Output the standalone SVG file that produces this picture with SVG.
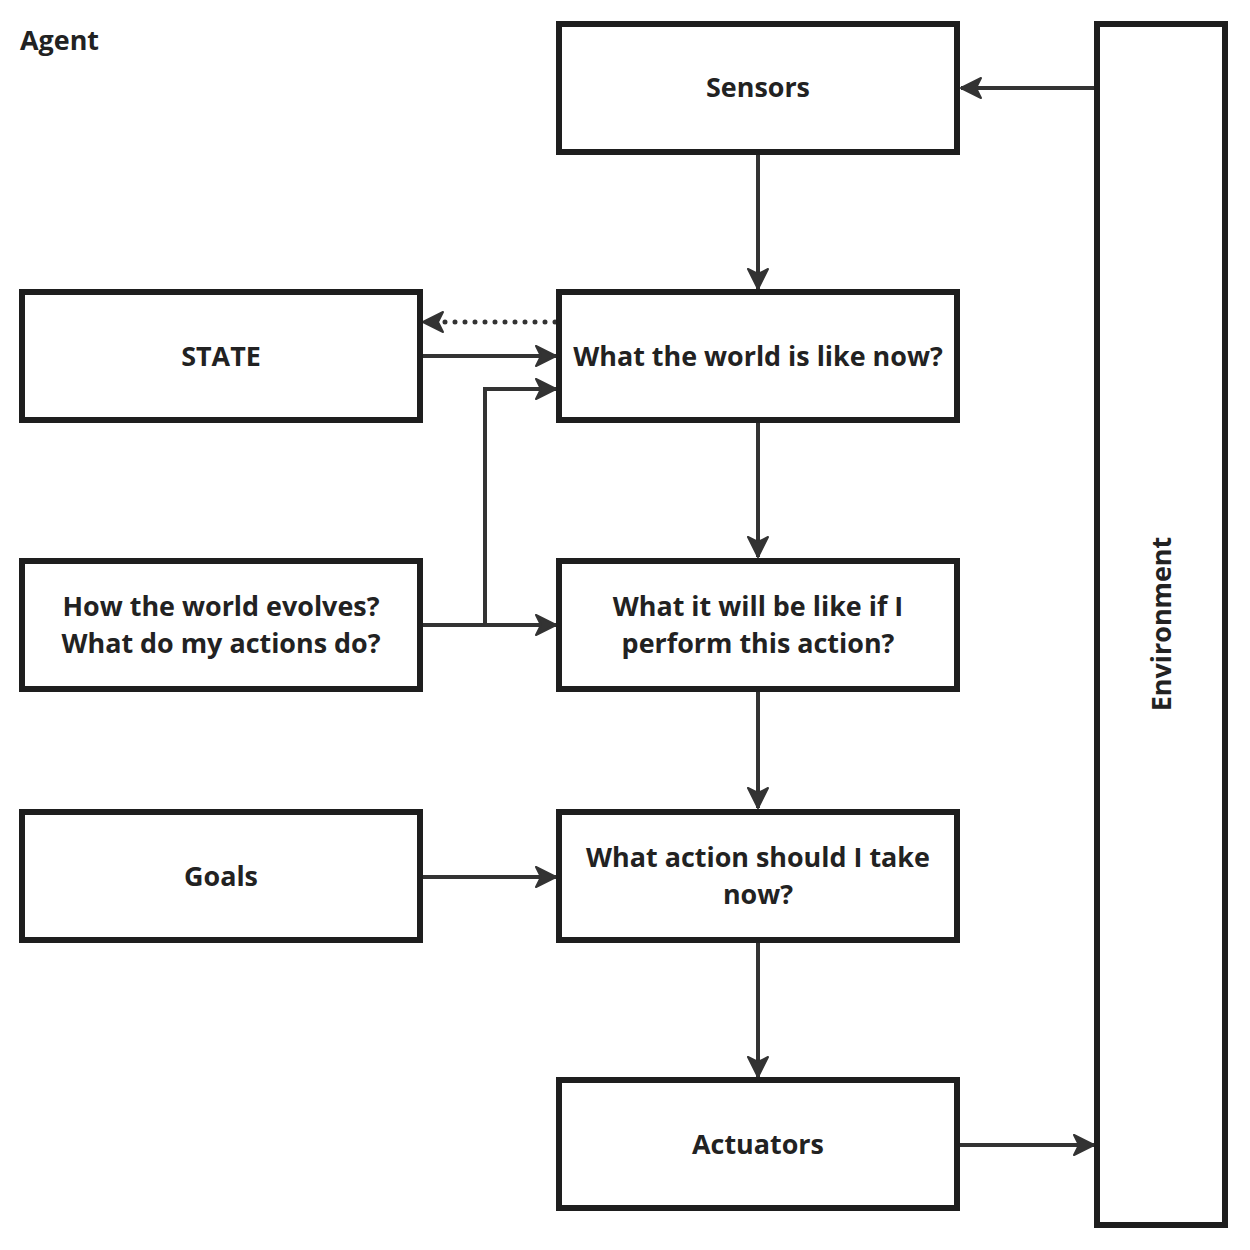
<svg xmlns="http://www.w3.org/2000/svg" width="1250" height="1250" viewBox="0 0 1250 1250">
<style>
.box{fill:#fff;stroke:#1e1e1e;stroke-width:6}
.t{font-family:"Open Sans","Noto Sans",sans-serif;font-weight:bold;font-size:26.9px;fill:#222;text-anchor:middle}
.c{fill:none;stroke:#333;stroke-width:4}
.d{fill:none;stroke:#333;stroke-width:5;stroke-dasharray:0 10;stroke-linecap:round}
</style>
<defs>
<marker id="ah" markerUnits="userSpaceOnUse" markerWidth="24" markerHeight="24" viewBox="0 0 24 24" refX="22" refY="12" orient="auto">
<path d="M2,2 L22,12 L2,22 L7,12 Z" fill="#333" stroke="#333" stroke-width="2" stroke-linejoin="round"/>
</marker>
</defs>
<rect width="1250" height="1250" fill="#fff"/>
<text x="20" y="50" class="t" style="text-anchor:start">Agent</text>
<g id="connectors">
<path class="c" d="M1095,88 H961" marker-end="url(#ah)"/>
<path class="c" d="M758,154 V289" marker-end="url(#ah)"/>
<path class="c" d="M758,423 V557" marker-end="url(#ah)"/>
<path class="c" d="M758,692 V808" marker-end="url(#ah)"/>
<path class="c" d="M758,943 V1077" marker-end="url(#ah)"/>
<path class="c" d="M423,356 H556" marker-end="url(#ah)"/>
<path class="d" d="M555,322 H440"/>
<path class="c" d="M440,322 H423" marker-end="url(#ah)" stroke-opacity="0"/>
<path class="c" d="M423,625 H556" marker-end="url(#ah)"/>
<path class="c" d="M485,625 V389 H556" marker-end="url(#ah)"/>
<path class="c" d="M423,877 H556" marker-end="url(#ah)"/>
<path class="c" d="M960,1145 H1094" marker-end="url(#ah)"/>
</g>
<g id="sensors"><rect class="box" x="559" y="24" width="398" height="128"/><text class="t" x="758" y="97">Sensors</text></g>
<g id="world-now"><rect class="box" x="559" y="292" width="398" height="128"/><text class="t" x="758" y="366">What the world is like now?</text></g>
<g id="predict"><rect class="box" x="559" y="561" width="398" height="128"/><text class="t" x="758" y="616">What it will be like if I</text><text class="t" x="758" y="653">perform this action?</text></g>
<g id="action"><rect class="box" x="559" y="812" width="398" height="128"/><text class="t" x="758" y="867">What action should I take</text><text class="t" x="758" y="904">now?</text></g>
<g id="actuators"><rect class="box" x="559" y="1080" width="398" height="128"/><text class="t" x="758" y="1154">Actuators</text></g>
<g id="state"><rect class="box" x="22" y="292" width="398" height="128"/><text class="t" x="221" y="366">STATE</text></g>
<g id="evolves"><rect class="box" x="22" y="561" width="398" height="128"/><text class="t" x="221" y="616">How the world evolves?</text><text class="t" x="221" y="653">What do my actions do?</text></g>
<g id="goals"><rect class="box" x="22" y="812" width="398" height="128"/><text class="t" x="221" y="886">Goals</text></g>
<g id="environment"><rect class="box" x="1097" y="24" width="128" height="1201"/><text class="t" transform="translate(1171,624) rotate(-90)">Environment</text></g>
</svg>
